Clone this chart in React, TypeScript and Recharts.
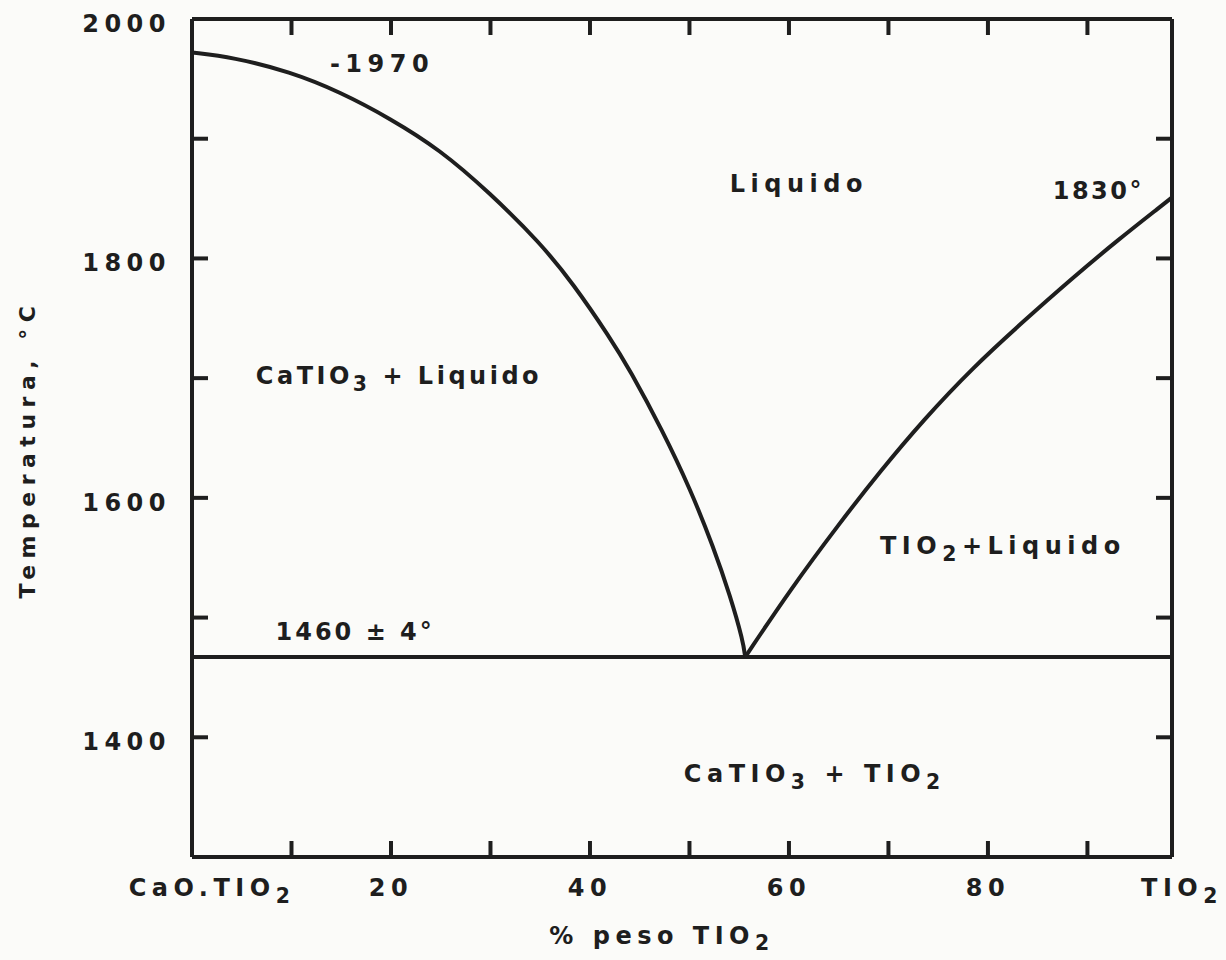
import React from "react"
import { ComposedChart, Line, Scatter, XAxis, YAxis, Label, ReferenceLine } from "recharts"

const INK = "#1e1e1e"
const FONT = "'DejaVu Sans', 'Liberation Sans', Arial, sans-serif"

// x axis: % peso TiO2, the frame stops a little short of 100 in the scan
const X_MAX = 98.5
const X_TICKS = [0, 10, 20, 30, 40, 50, 60, 70, 80, 90, X_MAX]
const X_LABELS: Record<string, string> = {
  0: "CaO.TIO_2",
  20: "20",
  40: "40",
  60: "60",
  80: "80",
  [X_MAX]: "TIO_2",
}

// y axis: temperature
const Y_TICKS = [1300, 1400, 1500, 1600, 1700, 1800, 1900, 2000]
const Y_LABELS = [1400, 1600, 1800, 2000]

// liquidus, CaTiO3 side
const liqLeftX = [0, 4.1, 9.85, 14.9, 19.9, 24.9, 29.9, 35.0, 38.3, 42.0, 44.0, 47.3, 50.1, 52.4, 54.1, 55.4, 55.6]
const liqLeftT = [1972, 1968, 1956, 1939, 1917, 1891, 1855, 1813, 1779, 1734, 1707, 1656, 1607, 1559, 1518, 1480, 1467]

// liquidus, TiO2 side
const liqRightX = [55.6, 60.1, 65.1, 69.15, 73.5, 78.5, 83.5, 88.55, 93.0, 97.6, 98.5]
const liqRightT = [1467, 1523, 1579, 1622, 1665, 1709, 1747, 1784, 1815, 1845, 1851]

// eutectic horizontal
const eutX = [0, X_MAX]
const eutT = [1467, 1467]

// region / point labels (x, temperature, text)
const noteX = [19.1, 61.0, 91.1, 20.8, 81.5, 16.4, 62.6]
const noteT = [1963, 1863, 1857, 1703, 1561, 1489, 1370]
const noteText = [
  "-1970",
  "Liquido",
  "1830°",
  "CaTIO_3 + Liquido",
  "TIO_2+Liquido",
  "1460 ± 4°",
  "CaTIO_3 + TIO_2",
]
const noteSpacing = [5.5, 5.5, 2.5, 3.5, 5.5, 3, 5.5]

const toRows = (xs: number[], ts: number[]) => xs.map((x, i) => ({ x, t: ts[i] }))
const liqLeft = toRows(liqLeftX, liqLeftT)
const liqRight = toRows(liqRightX, liqRightT)
const eutectic = toRows(eutX, eutT)
const notes = noteX.map((x, i) => ({ x, t: noteT[i], text: noteText[i], sp: noteSpacing[i] }))

// text with "_3" style subscripts
function Rich({ x, y, text, anchor = "middle", size = 24, spacing = 5.5, sub = 7, transform }: any) {
  const parts = text.split(/_(\d)/)
  return (
    <text
      x={x}
      y={y}
      textAnchor={anchor}
      fontFamily={FONT}
      fontWeight="bold"
      fontSize={size}
      letterSpacing={spacing}
      fill={INK}
      transform={transform}
    >
      {parts.map((p: string, i: number) =>
        i % 2 === 1 ? (
          <tspan key={i} dy={sub} fontSize={size * 0.85}>{p}</tspan>
        ) : (
          <tspan key={i} dy={i > 0 ? -sub : 0}>{p}</tspan>
        )
      )}
    </text>
  )
}

function BottomTick({ x, y, payload }: any) {
  const v = payload.value
  const label = X_LABELS[v]
  let dx = 0
  if (v === 0) dx = 20
  if (v === X_MAX) dx = 10
  return (
    <g>
      {v > 0 && v < X_MAX && <line x1={x} x2={x} y1={y} y2={y - 16} stroke={INK} strokeWidth={4} />}
      {label && <Rich x={x + dx} y={y + 39} text={label} />}
    </g>
  )
}

function TopTick({ x, y, payload }: any) {
  const v = payload.value
  if (v <= 0 || v >= X_MAX) return <g />
  return <line x1={x} x2={x} y1={y} y2={y + 16} stroke={INK} strokeWidth={4} />
}

function LeftTick({ x, y, payload }: any) {
  const v = payload.value
  return (
    <g>
      {v > 1300 && v < 2000 && <line x1={x} x2={x + 16} y1={y} y2={y} stroke={INK} strokeWidth={4} />}
      {Y_LABELS.includes(v) && <Rich x={x - 21} y={y + 13} text={String(v)} anchor="end" />}
    </g>
  )
}

function RightTick({ x, y, payload }: any) {
  const v = payload.value
  if (v <= 1300 || v >= 2000) return <g />
  return <line x1={x} x2={x - 16} y1={y} y2={y} stroke={INK} strokeWidth={4} />
}

function NoteShape({ cx, cy, payload }: any) {
  return <Rich x={cx} y={cy + 9} text={payload.text} spacing={payload.sp} />
}

export default function App() {
  const axisLine = { stroke: INK, strokeWidth: 4 }
  return (
    <div style={{ position: "absolute", left: 0, top: 0, width: 1226, height: 960, background: "#fbfbf9" }}>
      <ComposedChart width={1226} height={960} margin={{ top: 18, right: 53, bottom: 0, left: 0 }}>
        <XAxis
          xAxisId="b"
          type="number"
          dataKey="x"
          domain={[0, X_MAX]}
          allowDataOverflow
          ticks={X_TICKS}
          interval={0}
          tickLine={false}
          tickSize={0}
          tickMargin={0}
          axisLine={axisLine}
          tick={BottomTick}
          height={103}
        >
          <Label
            content={({ viewBox }: any) => (
              <Rich x={viewBox.x + viewBox.width / 2 - 20} y={viewBox.y + 87} text="% peso TIO_2" sub={6} />
            )}
          />
        </XAxis>
        <XAxis
          xAxisId="t"
          orientation="top"
          type="number"
          dataKey="x"
          domain={[0, X_MAX]}
          allowDataOverflow
          ticks={X_TICKS}
          interval={0}
          tickLine={false}
          tickSize={0}
          tickMargin={0}
          axisLine={axisLine}
          tick={TopTick}
          height={1}
        />
        <YAxis
          yAxisId="l"
          type="number"
          domain={[1300, 2000]}
          allowDataOverflow
          ticks={Y_TICKS}
          interval={0}
          tickLine={false}
          tickSize={0}
          tickMargin={0}
          axisLine={axisLine}
          tick={LeftTick}
          width={192}
        >
          <Label
            content={({ viewBox }: any) => (
              <Rich
                x={35}
                y={viewBox.y + 430}
                text="Temperatura, °C"
                size={22}
                spacing={6.5}
                transform={`rotate(-90, 35, ${viewBox.y + 430})`}
              />
            )}
          />
        </YAxis>
        <YAxis
          yAxisId="r"
          orientation="right"
          type="number"
          domain={[1300, 2000]}
          allowDataOverflow
          ticks={Y_TICKS}
          interval={0}
          tickLine={false}
          tickSize={0}
          tickMargin={0}
          axisLine={axisLine}
          tick={RightTick}
          width={1}
        />

        {/* frame top + right */}
        <ReferenceLine xAxisId="b" yAxisId="l" y={2000} stroke={INK} strokeWidth={4} />
        <ReferenceLine xAxisId="b" yAxisId="l" x={X_MAX} stroke={INK} strokeWidth={4} />

        <Line
          xAxisId="b"
          yAxisId="l"
          data={eutectic}
          dataKey="t"
          type="linear"
          stroke={INK}
          strokeWidth={4}
          dot={false}
          isAnimationActive={false}
        />
        <Line
          xAxisId="b"
          yAxisId="l"
          data={liqLeft}
          dataKey="t"
          type="basis"
          stroke={INK}
          strokeWidth={4}
          dot={false}
          isAnimationActive={false}
        />
        <Line
          xAxisId="b"
          yAxisId="l"
          data={liqRight}
          dataKey="t"
          type="basis"
          stroke={INK}
          strokeWidth={4}
          dot={false}
          isAnimationActive={false}
        />
        <Scatter
          xAxisId="b"
          yAxisId="l"
          data={notes}
          dataKey="t"
          shape={NoteShape}
          isAnimationActive={false}
        />
      </ComposedChart>
    </div>
  )
}
